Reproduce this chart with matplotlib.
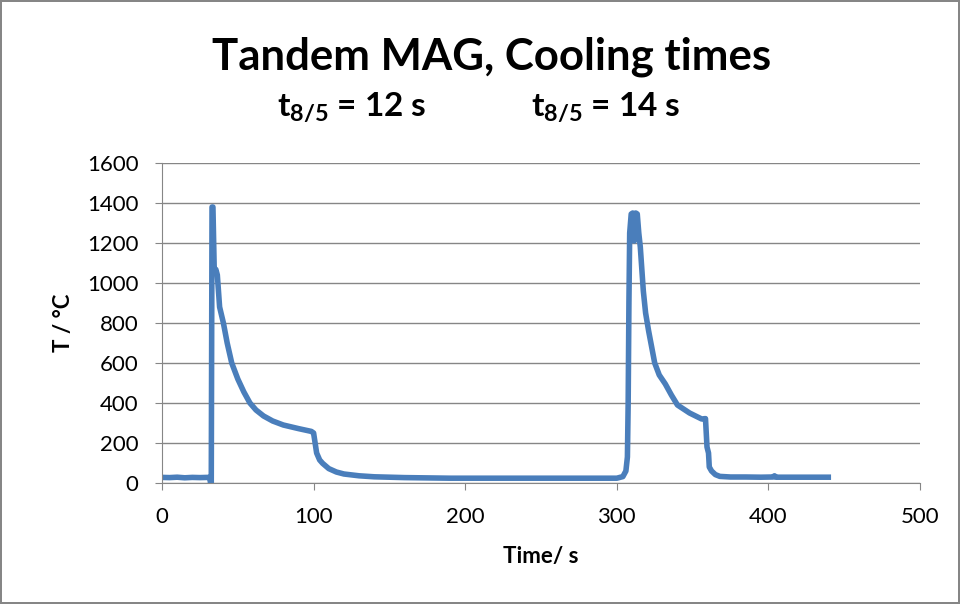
import matplotlib.pyplot as plt

plt.rcParams["font.family"] = ["Lato", "DejaVu Sans"]
plt.rcParams["mathtext.fontset"] = "custom"
plt.rcParams["mathtext.bf"] = "Lato:bold"
plt.rcParams["mathtext.rm"] = "Lato"

# thermocouple reading
time_s = [0, 5, 10, 15, 20, 25, 30, 31.5, 32, 32.5, 33, 33.6, 34.5, 35.5, 36.5, 38,
          40.5, 43, 46, 50, 54, 58, 62, 67, 73, 80, 90, 98.5, 100, 102, 104, 106,
          110, 115, 120, 130, 140, 160, 190, 220, 250, 280, 300, 304, 306, 307,
          307.5, 308, 308.5, 309.5, 310.5, 311.5, 312.5, 313.5, 314.5, 315.5,
          317.5, 319, 321, 323, 325, 328, 332, 336, 340, 344, 348, 352, 356,
          358.5, 359.5, 360.5, 361, 362.5, 365, 368, 375, 385, 395, 403, 404,
          405, 415, 425, 439.5]
temp_c = [28, 27, 29, 26, 28, 27, 28, 28, 0, 0, 1380, 1380, 1050, 1068, 1040, 880,
          800, 700, 600, 520, 455, 400, 365, 335, 310, 290, 272, 258, 250, 150,
          115, 98, 72, 55, 45, 36, 31, 27, 24, 24, 24, 24, 24, 32, 60, 130,
          400, 900, 1250, 1345, 1350, 1210, 1350, 1345, 1250, 1180,
          960, 850, 760, 680, 600, 540, 495, 440, 390, 370, 350, 335, 320,
          322, 180, 150, 80, 60, 42, 33, 30, 30, 29, 30, 36,
          29, 29, 29, 29]

x_ticks = [0, 100, 200, 300, 400, 500]
y_ticks = [0, 200, 400, 600, 800, 1000, 1200, 1400, 1600]

grey = "#868686"

fig = plt.figure(figsize=(9.6, 6.04), dpi=100)
fig.patch.set_edgecolor(grey)
fig.patch.set_linewidth(1.5)
ax = fig.add_axes([162 / 960, 1 - 483 / 604, 758 / 960, 320 / 604])

ax.plot(time_s, temp_c, color="#4A7EBB", linewidth=4, solid_joinstyle="round")

ax.set_xlim(0, 500)
ax.set_ylim(0, 1600)
ax.set_xticks(x_ticks)
ax.set_yticks(y_ticks)
ax.grid(axis="y", color=grey, linewidth=1)
ax.set_axisbelow(True)
for side in ["top", "right"]:
    ax.spines[side].set_visible(False)
for side in ["left", "bottom"]:
    ax.spines[side].set_color(grey)
ax.tick_params(colors=grey, labelcolor="black", labelsize=16, length=5, pad=12,
               direction="out")

ax.set_xlabel("Time/ s", fontsize=16, fontweight="bold", labelpad=14)
ax.set_ylabel("T / °C", fontsize=16, fontweight="bold", labelpad=9)

fig.text(492 / 960, 1 - 57 / 604, "Tandem MAG, Cooling times", fontsize=31.5,
         fontweight="bold", ha="center", va="center")
fig.text(352 / 960, 1 - 107 / 604, r"$\mathbf{t_{8/5}}$ = 12 s", fontsize=24,
         fontweight="bold", ha="center", va="center")
fig.text(606 / 960, 1 - 107 / 604, r"$\mathbf{t_{8/5}}$ = 14 s", fontsize=24,
         fontweight="bold", ha="center", va="center")

fig.savefig("out.png", dpi=100)
